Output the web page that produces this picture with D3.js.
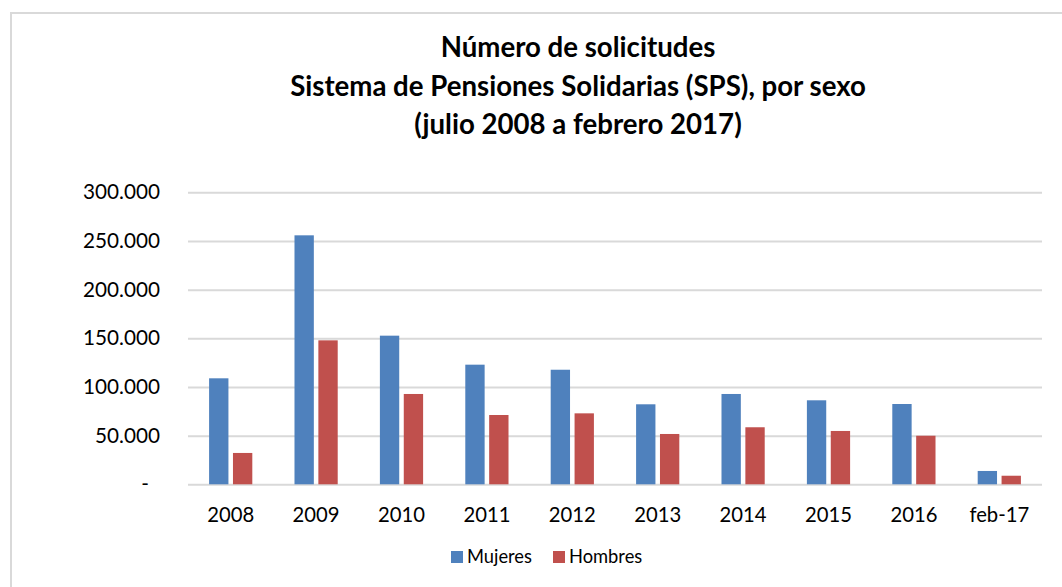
<!DOCTYPE html>
<html>
<head>
<meta charset="utf-8">
<script src="https://cdn.jsdelivr.net/npm/d3@7"></script>
<style>
  html, body { margin: 0; padding: 0; background: #fff; }
  svg { display: block; }
</style>
</head>
<body>
<svg id="chart" width="1062" height="587"></svg>
<script>
const categories = ["2008", "2009", "2010", "2011", "2012", "2013", "2014", "2015", "2016", "feb-17"];
const seriesNames = ["Mujeres", "Hombres"];
const mujeres = [108900, 255800, 152700, 122900, 117700, 82200, 92800, 86300, 82500, 13700];
const hombres = [32200, 147900, 92800, 71200, 72900, 51700, 58600, 54800, 49900, 8800];
const yTicks = [0, 50000, 100000, 150000, 200000, 250000, 300000];
const titleLines = ["Número de solicitudes", "Sistema de Pensiones Solidarias (SPS), por sexo", "(julio 2008 a febrero 2017)"];
const colors = ["#4F81BD", "#C0504D"];

const svg = d3.select("#chart");
const font = "Lato, 'Open Sans', sans-serif";

// fit a font size so that a sample string gets a target width
function fitSize(sample, targetWidth, weight) {
  const t = svg.append("text").attr("font-family", font).attr("font-weight", weight || "normal")
    .attr("font-size", 100).text(sample);
  const w = t.node().getComputedTextLength();
  t.remove();
  return 100 * targetWidth / w;
}

const titleSize = fitSize(titleLines[1], 576, "bold");
const tickSize = fitSize("300.000", 77);
const xSize = fitSize("2008", 47);
const legSize = fitSize("Mujeres", 65);

// frame
svg.append("rect").attr("x", 11).attr("y", 13).attr("width", 1100).attr("height", 620)
  .attr("fill", "none").attr("stroke", "#d9d9d9").attr("stroke-width", 2);

// title
const title = svg.append("text").attr("text-anchor", "middle")
  .attr("font-family", font).attr("font-weight", "bold").attr("font-size", titleSize).attr("fill", "#000");
titleLines.forEach((t, i) => {
  title.append("tspan").attr("x", 578).attr("y", 57 + i * 38.5).text(t);
});

const plot = { left: 188, right: 1042, top: 192.3, bottom: 484.3 };

const y = d3.scaleLinear().domain([0, 300000]).range([plot.bottom, plot.top]);
const x0 = d3.scaleBand().domain(categories).range([plot.left, plot.right]).padding(0);
const bw = x0.bandwidth();
const x1 = d3.scaleBand().domain(seriesNames).range([bw * 0.247, bw * 0.753]).paddingInner(0.19);

// gridlines
const fmt = v => v === 0 ? "-" : d3.format(",")(v).replace(/,/g, ".");
const yAxis = d3.axisLeft(y).tickValues(yTicks).tickFormat(fmt).tickSize(-(plot.right - plot.left)).tickPadding(28);
const gy = svg.append("g").attr("transform", `translate(${plot.left},0)`).call(yAxis);
gy.select(".domain").remove();
gy.selectAll(".tick line").attr("stroke", "#d9d9d9").attr("stroke-width", 2);
gy.selectAll(".tick text").attr("font-family", font).attr("font-size", tickSize).attr("fill", "#000");
gy.selectAll(".tick text").filter(d => d === 0).attr("dx", -11);

// bars
const data = categories.map((c, i) => ({ cat: c, vals: [{ s: "Mujeres", v: mujeres[i] }, { s: "Hombres", v: hombres[i] }] }));
const groups = svg.append("g").selectAll("g").data(data).join("g")
  .attr("transform", d => `translate(${x0(d.cat)},0)`);
groups.selectAll("rect").data(d => d.vals).join("rect")
  .attr("x", d => x1(d.s))
  .attr("width", x1.bandwidth())
  .attr("y", d => y(d.v))
  .attr("height", d => y(0) - y(d.v))
  .attr("fill", (d, i) => colors[i]);

// x axis labels
const xAxis = d3.axisBottom(x0).tickSize(0).tickPadding(23);
const gx = svg.append("g").attr("transform", `translate(0,${plot.bottom})`).call(xAxis);
gx.select(".domain").remove();
gx.selectAll(".tick text").attr("font-family", font).attr("font-size", xSize).attr("fill", "#000");

// legend
const legend = svg.append("g");
const legItems = [{ name: "Mujeres", x: 451 }, { name: "Hombres", x: 553 }];
legItems.forEach((it, i) => {
  legend.append("rect").attr("x", it.x).attr("y", 551).attr("width", 12).attr("height", 12).attr("fill", colors[i]);
  legend.append("text").attr("x", it.x + 16).attr("y", 562.5)
    .attr("font-family", font).attr("font-size", legSize).attr("fill", "#000").text(it.name);
});
</script>
</body>
</html>
